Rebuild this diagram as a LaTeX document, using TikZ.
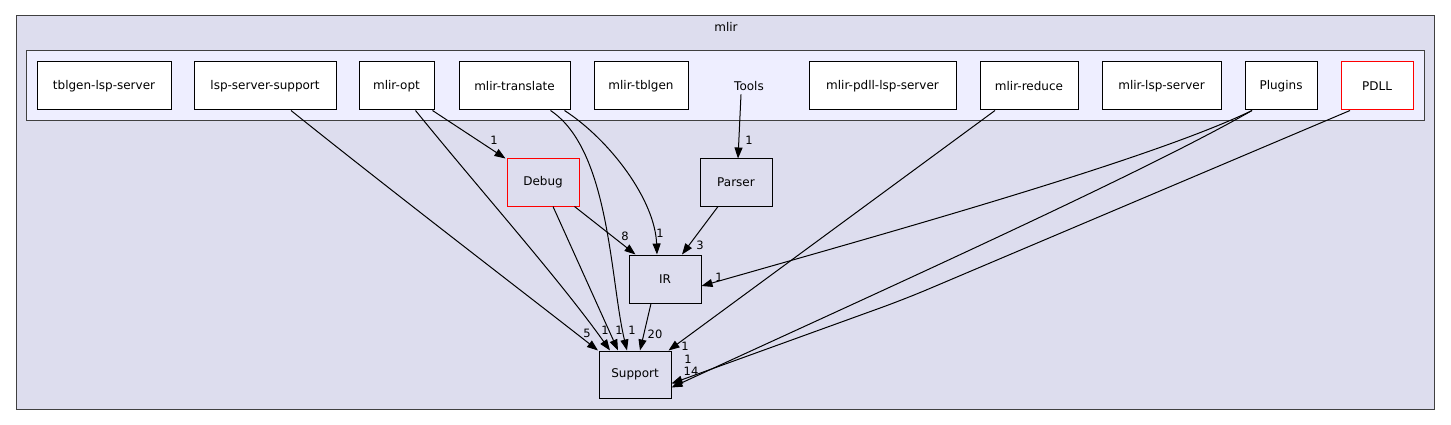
\documentclass[tikz,border=0pt]{standalone}
\usepackage{fontspec}
\setmainfont{DejaVu Sans}
\usetikzlibrary{arrows.meta}
\definecolor{dirbg}{HTML}{DDDDEE}
\definecolor{toolsbg}{HTML}{EEEEFF}
\definecolor{frame}{HTML}{404040}
\begin{document}
\begin{tikzpicture}[x=1pt,y=-1pt,font=\fontsize{12}{14}\selectfont,line width=1pt,
  dir/.style={draw,fill=white,minimum height=48pt,inner sep=0pt},
  sub/.style={draw,fill=dirbg,minimum width=72pt,minimum height=48pt,inner sep=0pt},
  num/.style={inner sep=0pt,font=\fontsize{11.5}{13}\selectfont},
  dep/.style={-{Triangle[length=11pt,width=8pt]}},>=Stealth]
\useasboundingbox (0,0) rectangle (1451,425);
\draw[frame,fill=dirbg] (16,16) rectangle (1434,409);
\node (mlir) at (726,27) {mlir};
\draw[frame,fill=toolsbg] (26,51) rectangle (1424,121);
\node[dir,minimum width=134pt] (tblgenlsp) at (104,86) {tblgen-lsp-server};
\node[dir,minimum width=142pt] (lss) at (265,86) {lsp-server-support};
\node[dir,minimum width=75pt] (opt) at (396.5,86) {mlir-opt};
\node[dir,minimum width=111pt] (translate) at (514.5,86) {mlir-translate};
\node[dir,minimum width=94pt] (tblgen) at (641,86) {mlir-tblgen};
\node (tools) at (749,86) {Tools};
\node[dir,minimum width=147pt] (pdlllsp) at (882.5,86) {mlir-pdll-lsp-server};
\node[dir,minimum width=98pt] (reduce) at (1029,86) {mlir-reduce};
\node[dir,minimum width=119pt] (lspserver) at (1161.5,86) {mlir-lsp-server};
\node[dir,minimum width=72pt] (plugins) at (1281,86) {Plugins};
\node[dir,draw=red,minimum width=72pt] (pdll) at (1377,86) {PDLL};
\node[sub,draw=red,minimum height=47pt] (debug) at (543,182.5) {Debug};
\node[sub,minimum height=47pt] (parser) at (736,182.5) {Parser};
\node[sub] (ir) at (665,279) {IR};
\node[sub,minimum height=47pt] (support) at (635,374.5) {Support};
% dependencies
\draw[dep] ([xshift=26pt]lss.south) .. controls (390,190) and (540,305) .. ([xshift=-37pt]support.north);
\draw[dep] ([xshift=-2pt]opt.south east) -- ([xshift=-1pt]debug.north west);
\draw[dep] ([xshift=19pt]opt.south) .. controls (480,190) and (560,280) .. ([xshift=-25pt]support.north);
\draw[dep] ([xshift=50pt]translate.south) .. controls (610,140) and (655,200) .. ([xshift=-8pt]ir.north);
\draw[dep] ([xshift=36pt]translate.south) .. controls (610,150) and (610,280) .. ([xshift=-8pt]support.north);
\draw[dep] ([xshift=-8pt]tools.south) -- ([xshift=2pt]parser.north);
\draw[dep] ([xshift=-5pt]debug.south east) -- ([xshift=7pt]ir.north west);
\draw[dep] ([xshift=10pt]debug.south) -- ([xshift=-17pt]support.north);
\draw[dep] ([xshift=-18pt]parser.south) -- ([xshift=17pt]ir.north);
\draw[dep] ([xshift=-14pt]ir.south) -- ([xshift=5pt]support.north);
\draw[dep] ([xshift=-34pt]reduce.south) -- ([xshift=-3pt]support.north east);
\draw[dep] ([xshift=-29pt]plugins.south) .. controls (1150,160) and (880,235) .. ([yshift=-7pt]ir.east);
\draw[dep] ([xshift=-29pt]plugins.south) .. controls (1140,175) and (850,305) .. ([yshift=-13pt]support.east);
\draw[dep,rounded corners=25pt] ([xshift=-27pt]pdll.south) -- (905,299) -- ([yshift=-9pt]support.east);
% counts
\node[num] (n1) at (494,140) {1};
\node[num] (n2) at (749,140) {1};
\node[num] (n3) at (625,236) {8};
\node[num] (n4) at (660,233) {1};
\node[num] (n5) at (700,245) {3};
\node[num] (n6) at (719,277) {1};
\node[num] (n7) at (587,333) {5};
\node[num] (n8) at (605,330) {1};
\node[num] (n9) at (619,330) {1};
\node[num] (n10) at (632,330) {1};
\node[num] (n11) at (655,334) {20};
\node[num] (n12) at (685,346) {1};
\node[num] (n13) at (688,359) {1};
\node[num] (n14) at (691,371) {14};
\end{tikzpicture}
\end{document}
